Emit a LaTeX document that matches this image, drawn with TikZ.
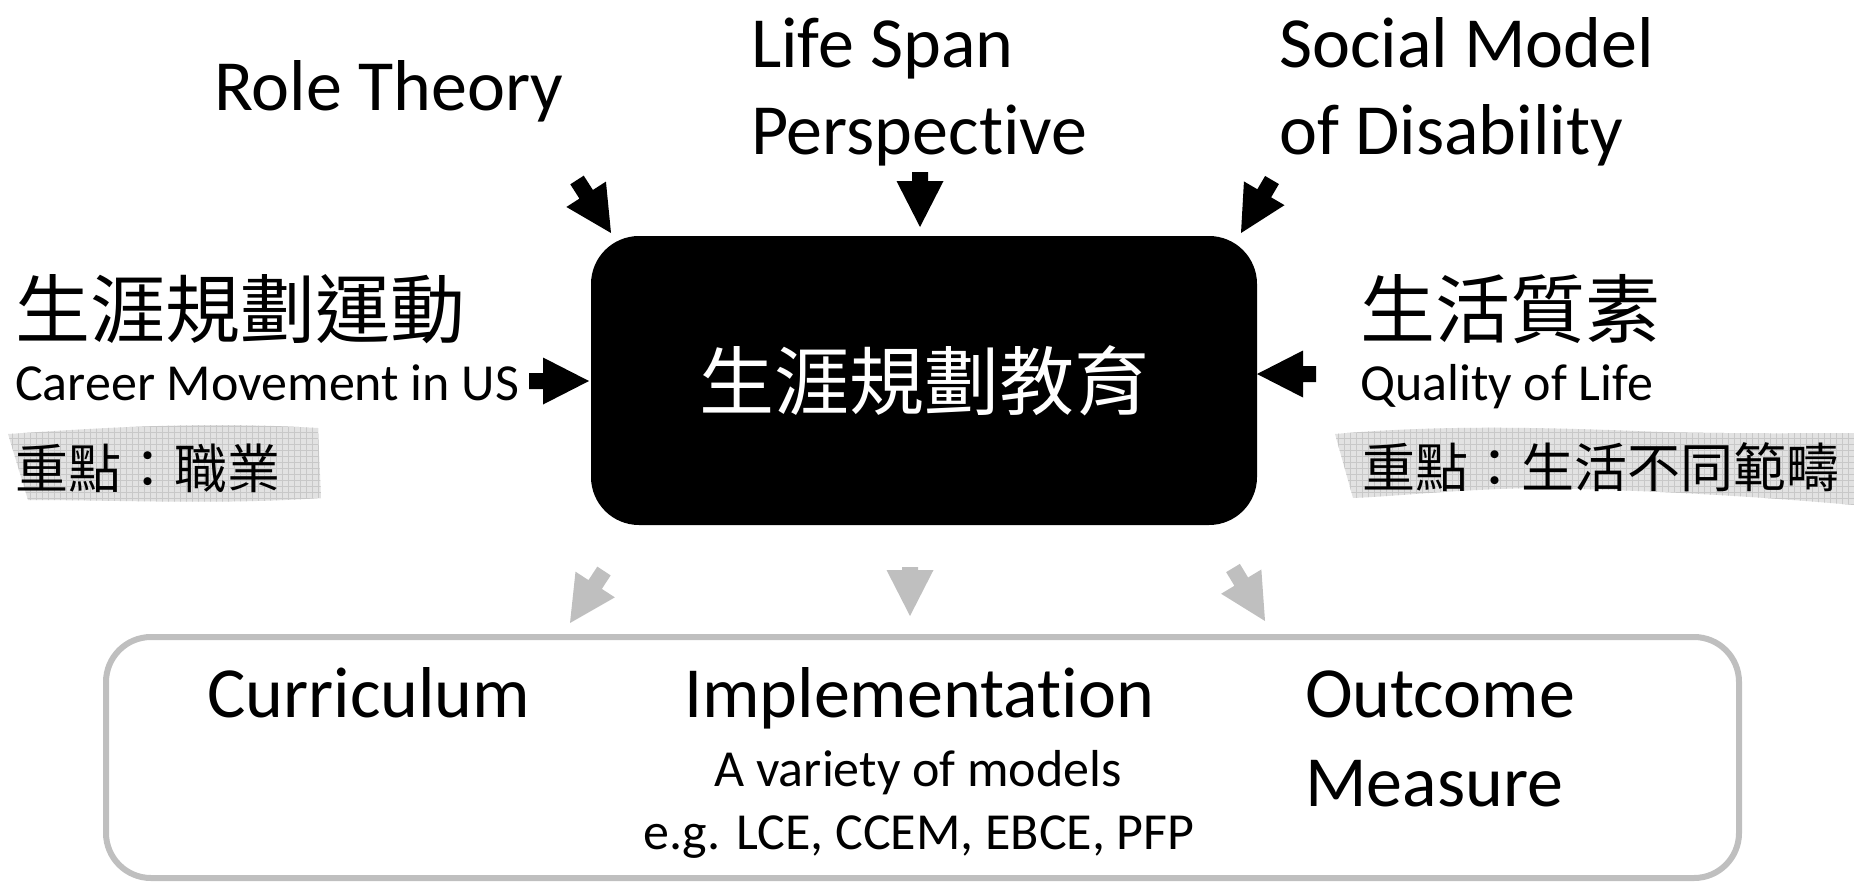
\documentclass[tikz,border=0pt]{standalone}
\usepackage{fontspec}
\setmainfont{Carlito}[Ligatures=NoCommon]
\newfontfamily\cjk{Noto Sans CJK TC}
\usetikzlibrary{calc}
\definecolor{lg}{RGB}{191,191,191}
\definecolor{hl}{RGB}{226,226,226}
\definecolor{hlgrid}{RGB}{200,200,200}
\newcommand\blockarrow[3]{%
  \coordinate (ba-b) at ($(#2)!46pt!(#1)$);
  \fill[#3] (#2) -- ($(ba-b)!23.5pt!90:(#2)$) -- ($(ba-b)!8pt!90:(#2)$)
    -- ($(#1)!8pt!90:(#2)$) -- ($(#1)!8pt!-90:(#2)$)
    -- ($(ba-b)!8pt!-90:(#2)$) -- ($(ba-b)!23.5pt!-90:(#2)$) -- cycle;
}
\begin{document}
\begin{tikzpicture}[x=1pt,y=-1pt,
  big/.style={font=\fontsize{72}{86}\selectfont, inner sep=0pt},
  mid/.style={font=\fontsize{52}{62}\selectfont, inner sep=0pt},
  small/.style={font=\fontsize{52}{62}\selectfont, inner sep=0pt},
  cjkbig/.style={font=\cjk\fontsize{75}{90}\selectfont, inner sep=0pt},
  cjksmall/.style={font=\cjk\fontsize{53}{64}\selectfont, inner sep=0pt},
  corebox/.style={fill=black, rounded corners=48pt, minimum width=666pt, minimum height=289pt, text=white, inner sep=0pt, font=\cjk\fontsize{75}{90}\selectfont},
  outbox/.style={draw=lg, line width=6pt, rounded corners=45pt, minimum width=1633pt, minimum height=241pt, inner sep=0pt}
]
\useasboundingbox (0,0) rectangle (1854,881);

% highlights
\begin{scope}
  \clip (8,434) .. controls (100,428) and (200,421) .. (318,428) -- (321,498)
    .. controls (220,505) and (120,500) .. (28,500) -- cycle;
  \fill[hl] (0,400) rectangle (340,520);
  \draw[hlgrid, line width=0.6pt] (0,400) grid[step=6pt] (340,520);
\end{scope}
\begin{scope}
  \clip (1335,434) .. controls (1450,424) and (1560,428) .. (1663,432)
    .. controls (1750,434) and (1820,433) .. (1854,433) -- (1854,505)
    .. controls (1750,496) and (1650,490) .. (1530,488)
    .. controls (1450,490) and (1400,496) .. (1353,498) -- cycle;
  \fill[hl] (1320,400) rectangle (1854,520);
  \draw[hlgrid, line width=0.6pt] (1320,400) grid[step=6pt] (1854,520);
\end{scope}

% central box
\node[corebox] (core) at (924,380.5) {生涯規劃教育};

% top labels
\node[big, anchor=base west] (role) at (214,110) {Role Theory};
\node[big, anchor=base west] (life1) at (751,67) {Life Span};
\node[big, anchor=base west] (life2) at (751,154) {Perspective};
\node[big, anchor=base west] (social1) at (1279,67) {Social Model};
\node[big, anchor=base west] (social2) at (1279,154) {of Disability};

% left labels
\node[cjkbig, anchor=west] (career) at (15,309) {生涯規劃運動};
\node[mid, anchor=base west] (careerEn) at (15,400) {Career Movement in US};
\node[cjksmall, anchor=west] (careerFocus) at (15,468) {重點：職業};

% right labels
\node[cjkbig, anchor=west] (qol) at (1360,309) {生活質素};
\node[mid, anchor=base west] (qolEn) at (1360,400) {Quality of Life};
\node[cjksmall, anchor=west] (qolFocus) at (1362,467) {重點：生活不同範疇};

% bottom box
\node[outbox] (outcomes) at (922.5,757.5) {};
\node[big, anchor=base west] (curr) at (207,717) {Curriculum};
\node[big, anchor=base] (impl) at (919,717) {Implementation};
\node[small, anchor=base] (impl2) at (918,786) {A variety of models};
\node[small, anchor=base] (impl3) at (919,849) {e.g. LCE, CCEM, EBCE, PFP};
\node[big, anchor=base west] (outc1) at (1305,717) {Outcome};
\node[big, anchor=base west] (outc2) at (1305,806) {Measure};

% arrow end points
\coordinate (tlA) at (577,180);   \coordinate (tlB) at (611,233);
\coordinate (tmA) at (920,172);   \coordinate (tmB) at (920,227);
\coordinate (trA) at (1272,180);  \coordinate (trB) at (1241,233);
\coordinate (lA) at (529,381);    \coordinate (lB) at (589,381);
\coordinate (rA) at (1316,374);   \coordinate (rB) at (1257,374);
\coordinate (glA) at (604,571);   \coordinate (glB) at (570,623);
\coordinate (gmA) at (910,567);   \coordinate (gmB) at (910,616);
\coordinate (grA) at (1233,568);  \coordinate (grB) at (1265,621);

\blockarrow{tlA}{tlB}{black}
\blockarrow{tmA}{tmB}{black}
\blockarrow{trA}{trB}{black}
\blockarrow{lA}{lB}{black}
\blockarrow{rA}{rB}{black}
\blockarrow{glA}{glB}{lg}
\blockarrow{gmA}{gmB}{lg}
\blockarrow{grA}{grB}{lg}
\end{tikzpicture}
\end{document}
